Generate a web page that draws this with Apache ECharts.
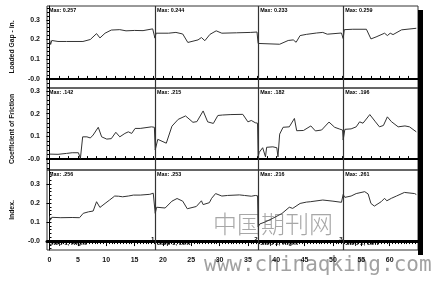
<!DOCTYPE html>
<html><head><meta charset="utf-8">
<script src="https://cdn.jsdelivr.net/npm/echarts@6/dist/echarts.min.js"></script>
<style>html,body{margin:0;padding:0;background:#fff}#c{width:439px;height:282px}</style>
</head><body><div id="c"></div>
<script>
// ---------- data ----------
const rowTitles = ['Loaded Gap - in.', 'Coefficient of Friction', 'Index.'];
const stepLabels = ['Step 1, Right', 'Step 1, Left', 'Step 2, Right', 'Step 2, Left'];
const dividers = [18.6, 36.8, 51.8];
const dividerNums = ['1', '2', '3'];
const maxGap = ['Max: 0.257', 'Max: 0.244', 'Max: 0.233', 'Max: 0.259'];
const maxCof = ['Max: .142', 'Max: .215', 'Max: .182', 'Max: .196'];
const maxIndex = ['Max: .256', 'Max: .253', 'Max: .216', 'Max: .261'];
const xTickLabels = [0, 5, 10, 15, 20, 25, 30, 35, 40, 45, 50, 55, 60];
const yTickLabels = [0, 0.1, 0.2, 0.3];

const loadedGap = [
  [0.0,0.20],[0.2,0.175],[0.4,0.195],[1.5,0.19],[3,0.19],[5.9,0.19],[7.2,0.20],[8.3,0.23],[8.9,0.208],
  [9.8,0.232],[10.9,0.248],[12.4,0.25],[13.5,0.244],[15,0.246],[16.5,0.245],[18.2,0.254],[18.5,0.257],[18.6,0.207],
  [18.8,0.232],[21,0.232],[22.3,0.236],[23.5,0.228],[24.4,0.185],[26.2,0.198],[26.8,0.21],[27.4,0.194],
  [28.3,0.226],[29.4,0.244],[30.4,0.232],[33,0.234],[35.5,0.236],[36.6,0.238],[36.8,0.18],
  [37.0,0.176],[40.6,0.176],[42.1,0.195],[43.0,0.198],[43.5,0.186],[44.2,0.22],[45.3,0.226],[47.1,0.233],
  [48.2,0.236],[49,0.227],[51.5,0.233],[51.8,0.205],
  [52.0,0.25],[53.5,0.252],[55.9,0.252],[56.7,0.203],[57.6,0.213],[59.1,0.232],[59.6,0.22],[60.1,0.232],
  [60.6,0.225],[62.1,0.249],[64.7,0.257]
];
const friction = [
  [0.0,0.022],[1.5,0.021],[3.0,0.025],[4.0,0.028],[5.1,0.028],[5.45,0.003],[5.85,0.098],[6.6,0.098],[7.2,0.093],
  [7.7,0.106],[8.6,0.14],[9.2,0.098],[10.1,0.088],[10.9,0.09],[11.7,0.118],[12.4,0.098],[13.3,0.113],[13.9,0.12],
  [14.5,0.113],[15.1,0.135],[16.0,0.135],[18.0,0.142],[18.5,0.14],[18.65,0.04],
  [19.1,0.087],[20.6,0.07],[21.6,0.145],[22.7,0.175],[24.0,0.19],[25.3,0.162],[26.0,0.165],[27.1,0.212],
  [27.9,0.164],[28.9,0.157],[29.7,0.192],[30.5,0.194],[32,0.196],[34.1,0.197],[35.0,0.164],[35.6,0.17],
  [36.3,0.16],[36.7,0.158],[36.8,0.01],
  [37.0,0.03],[37.6,0.05],[38.1,0.01],[38.3,0.052],[39.4,0.054],[40.1,0.05],[40.3,0.01],[40.6,0.11],[41.2,0.14],
  [42.3,0.142],[43.2,0.179],[43.6,0.125],[44.8,0.126],[46.1,0.146],[46.9,0.124],[48.0,0.128],[49.3,0.163],
  [50.3,0.14],[51.2,0.132],[51.7,0.128],[51.8,0.084],
  [52.1,0.131],[53.2,0.133],[54.1,0.142],[54.7,0.164],[55.3,0.158],[56.5,0.196],[57.5,0.164],[58.2,0.142],
  [58.9,0.148],[59.6,0.186],[60.3,0.165],[61.5,0.142],[62.7,0.146],[63.5,0.142],[64.7,0.12]
];
const indexVals = [
  [0.0,0.13],[0.15,0.11],[0.4,0.125],[2,0.123],[4,0.124],[5.3,0.123],[5.5,0.12],[5.95,0.146],[6.9,0.154],
  [7.7,0.158],[8.3,0.207],[8.9,0.177],[9.8,0.198],[10.6,0.216],[11.5,0.237],[12.2,0.236],[12.9,0.233],
  [13.9,0.237],[14.8,0.242],[16,0.242],[17.7,0.246],[18.3,0.252],[18.5,0.256],[18.65,0.146],
  [18.9,0.178],[20.4,0.174],[21.6,0.21],[22.5,0.224],[23.5,0.21],[24.3,0.17],[25.9,0.182],[26.8,0.212],
  [27.1,0.192],[28.2,0.202],[28.6,0.225],[29.3,0.25],[30.4,0.237],[31.4,0.24],[33.5,0.243],[34.4,0.24],
  [35.6,0.236],[36.3,0.24],[36.7,0.238],[36.8,0.075],
  [37.1,0.09],[38.0,0.1],[39.4,0.12],[41.0,0.145],[42.3,0.178],[42.9,0.172],[44.2,0.198],[45.3,0.205],
  [46.0,0.207],[48.2,0.216],[50.0,0.21],[51.5,0.204],[51.7,0.2],[51.8,0.245],
  [52.1,0.23],[53.2,0.237],[54.1,0.25],[55.6,0.26],[56.2,0.248],[56.7,0.198],[57.3,0.184],[58.5,0.207],
  [59.1,0.225],[59.5,0.212],[60.3,0.225],[61.2,0.237],[62.6,0.256],[64.4,0.25],[64.7,0.245]
];

// ---------- layout / style ----------
const X_MIN = -0.44, X_MAX = 65;
const yRanges = [[-0.046, 0.37], [-0.048, 0.313], [-0.047, 0.374]];
const gridsPos = [{top: 6, height: 82}, {top: 88, height: 82}, {top: 170, height: 80}];
const FONT = 'Liberation Sans';
const INK = '#000';

function range(a, b, s) { const r = []; for (let v = a; v <= b + 1e-9; v += s) r.push(+v.toFixed(4)); return r; }

const grids = gridsPos.map(g => ({left: 47, width: 371, top: g.top, height: g.height, show: true,
  borderColor: '#333', borderWidth: 1}));

const xAxes = [];
const yAxes = [];
for (let r = 0; r < 3; r++) {
  const last = r === 2;
  xAxes.push({type: 'value', gridIndex: r, min: X_MIN, max: X_MAX, position: 'bottom',
    axisLine: {show: true, lineStyle: {color: '#000', width: last ? 3 : 2}},
    axisTick: {show: true, inside: !last, length: last ? 5 : 3, lineStyle: {color: '#000', width: 1},
      customValues: last ? xTickLabels : range(0, 64, 5 / 3)},
    axisLabel: {show: last, customValues: xTickLabels, margin: 7, fontFamily: FONT, fontWeight: 'bold',
      fontSize: 7, color: '#141414'},
    splitLine: {show: false}});
  yAxes.push({type: 'value', gridIndex: r, min: yRanges[r][0], max: yRanges[r][1], position: 'left',
    name: rowTitles[r], nameLocation: 'middle', nameGap: 31,
    nameTextStyle: {fontFamily: FONT, fontWeight: 'bold', fontSize: 6.8, color: '#141414'},
    axisLine: {show: true, lineStyle: {color: '#000', width: 1}},
    axisTick: {show: true, length: 3, customValues: yTickLabels, lineStyle: {color: '#000'}},
    axisLabel: {show: true, customValues: yTickLabels, margin: 7, fontFamily: FONT, fontWeight: 'bold',
      fontSize: 7, color: '#141414', formatter: v => (Math.abs(v) < 1e-9 ? '-0.0' : v.toFixed(1))},
    splitLine: {show: false}});
}
for (let r = 0; r < 3; r++) {
  yAxes.push({type: 'value', gridIndex: r, min: yRanges[r][0], max: yRanges[r][1], position: 'left',
    axisLine: {show: false}, axisLabel: {show: false}, splitLine: {show: false},
    axisTick: {show: true, inside: true, length: 2, customValues: range(-0.04, 0.36, 0.02),
      lineStyle: {color: '#000'}}});
}
xAxes.push({type: 'value', gridIndex: 2, min: X_MIN, max: X_MAX, position: 'bottom',
  axisLine: {show: false}, axisLabel: {show: false}, splitLine: {show: false},
  axisTick: {show: true, length: 3, customValues: range(0, 64.5, 0.5), lineStyle: {color: '#000'}}});

const allMax = [maxGap, maxCof, maxIndex];
const rowData = [loadedGap, friction, indexVals];
const panelStarts = [X_MIN].concat(dividers);

const txt = {fontFamily: FONT, fontWeight: 'bold', fontSize: 5.4, color: INK, lineHeight: 6};

const series = rowData.map((d, r) => {
  const mp = allMax[r].map((m, i) => ({coord: [panelStarts[i], yRanges[r][1]],
    label: Object.assign({show: true, formatter: m, position: [2, 2]}, txt)}));
  if (r === 2) {
    stepLabels.forEach((s, i) => mp.push({coord: [panelStarts[i], yRanges[r][0]],
      label: Object.assign({show: true, formatter: s, position: [2, -10]}, txt, {fontSize: 6.2, lineHeight: 7})}));
    dividerNums.forEach((s, i) => mp.push({coord: [dividers[i], yRanges[r][0]],
      label: Object.assign({show: true, formatter: s, position: [-4, -14]}, txt, {fontSize: 6.2, lineHeight: 7})}));
  }
  return {
    type: 'line', xAxisIndex: r, yAxisIndex: r, data: d, showSymbol: false, symbol: 'none',
    lineStyle: {color: '#333', width: 1}, silent: true, clip: false,
    markLine: {silent: true, symbol: 'none', label: {show: false},
      lineStyle: {color: '#333', width: 1.2, type: 'solid'},
      data: dividers.map(v => ({xAxis: v}))},
    markPoint: {symbol: 'circle', symbolSize: 0, silent: true, data: mp}
  };
});

const chart = echarts.init(document.getElementById('c'), null, {renderer: 'canvas'});
chart.setOption({
  animation: false,
  backgroundColor: '#fff',
  grid: grids,
  xAxis: xAxes,
  yAxis: yAxes,
  series: series,
  graphic: [
    {type: 'rect', shape: {x: 418, y: 10, width: 5, height: 245}, style: {fill: '#000'}, silent: true},
    {type: 'text', left: 213, top: 212, silent: true,
      style: {text: '中国期刊网', font: '300 24px "Noto Sans CJK SC"', fill: 'rgba(130,130,130,0.7)'}},
    {type: 'text', left: 204, top: 255, silent: true,
      style: {text: 'www.chinaqking.com', font: '21px "DejaVu Sans Mono"', fill: 'rgba(130,130,130,0.75)'}}
  ]
});
</script></body></html>
